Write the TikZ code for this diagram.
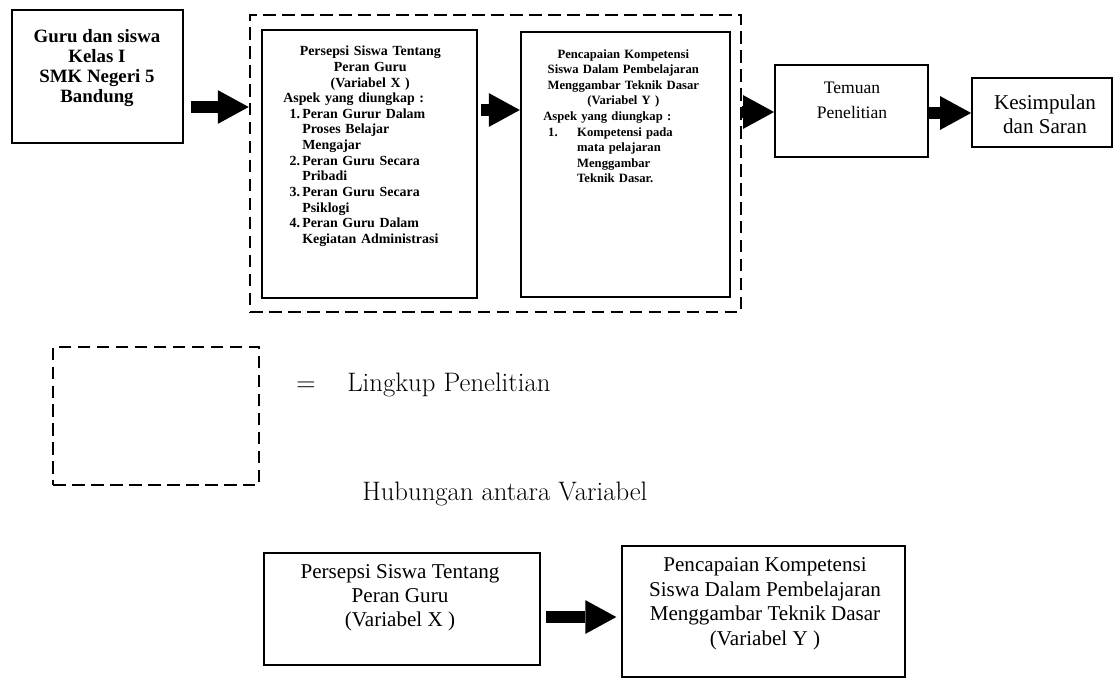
\documentclass[tikz,border=0pt]{standalone}
\usepackage{fontspec}
\setmainfont{Liberation Serif}
\usetikzlibrary{arrows.meta,positioning,calc,fit}
\tikzset{
  >={Triangle[length=22pt,width=24pt,line width=0pt]},
  % kotak
  kotak/.style={draw=black,line width=1.3pt,inner sep=0pt},
  kotaktebal/.style={kotak,line width=1.7pt},
  garis/.style={draw=black,line width=1.8pt,inner sep=0pt,dash pattern=on 9pt off 4.5pt},
  panah/.style={->,draw=black,line width=8.5pt},
  % teks
  tk/.style={inner sep=0pt,align=center,anchor=north},
  isi/.style={inner sep=0pt,anchor=north west,font=\bfseries\fontsize{9.9}{11.1}\selectfont},
  besar/.style={inner sep=0pt,anchor=base west,font=\fontfamily{lmr}\fontsize{19}{22}\selectfont},
}
\begin{document}
\begin{tikzpicture}[x=0.025cm,y=-0.025cm]
\useasboundingbox (0,0) rectangle (1119,680);
  % alur penelitian
  \node[kotak,fit={(12,10) (183,143)}] (guru) {};
  \node[garis,fit={(250,15) (741,312)}] (lingkup) {};
  \node[kotaktebal,fit={(262,30) (477,298)}] (varx) {};
  \node[kotaktebal,fit={(521,32) (730,297)}] (vary) {};
  \node[kotak,fit={(775,65) (928,157)}] (temuan) {};
  \node[kotak,fit={(972,78) (1112,147)}] (simpulan) {};
  \node[tk,font=\bfseries\fontsize{13.4}{14.2}\selectfont] (guruteks) at (97,29)
    {Guru dan siswa\\ Kelas I\\ SMK Negeri 5\\ Bandung};
  \node[isi,text width=4.35cm] (varxteks) at (283,46) {%
    {\centering Persepsi Siswa Tentang\\ Peran Guru\\ (Variabel X )\par}
    Aspek yang diungkap :\par
    \hspace*{4.5pt}\begin{tabular}[t]{@{}p{9pt}@{}l@{}}
      1. & Peran Gurur Dalam\\
         & Proses Belajar\\
         & Mengajar\\
      2. & Peran Guru Secara\\
         & Pribadi\\
      3. & Peran Guru Secara\\
         & Psiklogi\\
      4. & Peran Guru Dalam\\
         & Kegiatan Administrasi
    \end{tabular}};
  \node[isi,text width=4.0cm,font=\bfseries\fontsize{9}{11.1}\selectfont] (varyteks) at (543,49) {%
    {\centering Pencapaian Kompetensi\\ Siswa Dalam Pembelajaran\\ Menggambar Teknik Dasar\\ (Variabel Y )\par}
    Aspek yang diungkap :\par
    \hspace*{3.5pt}\begin{tabular}[t]{@{}p{20.6pt}@{}l@{}}
      1. & Kompetensi pada\\
         & mata pelajaran\\
         & Menggambar\\
         & Teknik Dasar.
    \end{tabular}};
  \node[tk,font=\fontsize{12.5}{17.8}\selectfont] (temuanteks) at (852,82) {Temuan\\ Penelitian};
  \node[tk,font=\fontsize{15}{17}\selectfont] (simpulanteks) at (1045,95) {Kesimpulan\\ dan Saran};
  \draw[panah,shorten <=5pt] (guru.east |- 0,107) -- (lingkup.west |- 0,107);
  \draw[panah,shorten <=2pt] (varx.east |- 0,110) -- (vary.west |- 0,110);
  \draw[panah] (lingkup.east |- 0,112) -- (temuan.west |- 0,112);
  \draw[panah] (temuan.east |- 0,113) -- (simpulan.west |- 0,113);
  % keterangan
  \node[garis,fit={(53,347) (259,485)}] (legenda) {};
  \node[besar] (sama) at (296,391) {=};
  \node[besar] (lingkupteks) at (347,391) {Lingkup Penelitian};
  \node[besar] (hubungan) at (362,500) {Hubungan antara Variabel};
  % hubungan antar variabel
  \node[kotak,line width=1.1pt,fit={(264,553) (540,665)}] (hx) {};
  \node[kotak,line width=1.1pt,fit={(622,546) (905,677)}] (hy) {};
  \node[tk,font=\fontsize{15}{17}\selectfont] (hxteks) at (400,564)
    {Persepsi Siswa Tentang\\ Peran Guru\\ (Variabel X )};
  \node[tk,font=\fontsize{15}{17.6}\selectfont] (hyteks) at (765,557)
    {Pencapaian Kompetensi\\ Siswa Dalam Pembelajaran\\ Menggambar Teknik Dasar\\ (Variabel Y )};
  \draw[panah,shorten <=4pt,shorten >=3.5pt] (hx.east |- 0,617) -- (hy.west |- 0,617);
\end{tikzpicture}
\end{document}
